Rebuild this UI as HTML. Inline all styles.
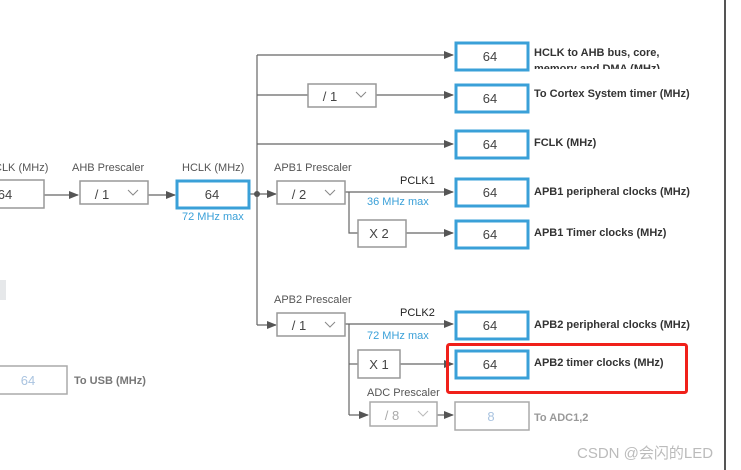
<!DOCTYPE html>
<html><head><meta charset="utf-8"><style>
html,body{margin:0;padding:0;background:#fff;}
svg{display:block;font-family:"Liberation Sans","Noto Sans CJK SC",sans-serif;}
.l{fill:#555;font-size:11px;}
.b{fill:#333;font-size:11px;font-weight:bold;}
.v{fill:#444;font-size:13px;text-anchor:middle;}
.blue{fill:#3aa0d8;font-size:11px;}
</style></head><body>
<svg width="741" height="470" viewBox="0 0 741 470">
<defs><marker id="a" markerWidth="10" markerHeight="8" refX="9" refY="4" orient="auto" markerUnits="userSpaceOnUse"><path d="M0,0 L10,4 L0,8z" fill="#555"/></marker></defs>
<g stroke="#666" stroke-width="1.2" fill="none">
<line x1="44" y1="195" x2="78" y2="195" marker-end="url(#a)"/>
<line x1="148" y1="195" x2="175" y2="195" marker-end="url(#a)"/>
<line x1="249" y1="194" x2="276" y2="194" marker-end="url(#a)"/>
<line x1="257" y1="55" x2="257" y2="325"/>
<line x1="257" y1="55" x2="453" y2="55" marker-end="url(#a)"/>
<line x1="257" y1="95" x2="308" y2="95"/>
<line x1="376" y1="95" x2="453" y2="95" marker-end="url(#a)"/>
<line x1="257" y1="144" x2="453" y2="144" marker-end="url(#a)"/>
<line x1="345" y1="192" x2="453" y2="192" marker-end="url(#a)"/>
<polyline points="349,192 349,233 358,233"/>
<line x1="406" y1="233" x2="453" y2="233" marker-end="url(#a)"/>
<line x1="257" y1="325" x2="276" y2="325" marker-end="url(#a)"/>
<line x1="345" y1="324" x2="453" y2="324" marker-end="url(#a)"/>
<line x1="349" y1="324" x2="349" y2="415"/>
<line x1="349" y1="364" x2="358" y2="364"/>
<line x1="400" y1="364" x2="453" y2="364" marker-end="url(#a)"/>
<line x1="349" y1="415" x2="368" y2="415" marker-end="url(#a)"/>
<line x1="437" y1="415" x2="453" y2="415" marker-end="url(#a)"/>
</g>
<circle cx="257" cy="194" r="3" fill="#555"/>
<!-- grey boxes -->
<g fill="#fff" stroke="#999" stroke-width="1.5">
<rect x="-2" y="180" width="46" height="28"/>
<rect x="80" y="181" width="68" height="23"/>
<rect x="308" y="84" width="68" height="23"/>
<rect x="277" y="181" width="68" height="23"/>
<rect x="358" y="220" width="48" height="27"/>
<rect x="277" y="313" width="68" height="23"/>
<rect x="358" y="350" width="42" height="28"/>
<rect x="370" y="402" width="67" height="24" stroke="#aaa"/>
<rect x="455" y="402" width="74" height="28" stroke="#aaa"/>
<rect x="-2" y="366" width="69" height="28" stroke="#aaa"/>
</g>
<rect x="0" y="280" width="6" height="20" fill="#e6e8ea"/>
<g fill="#fff" stroke="#3aa0d8" stroke-width="3">
<rect x="177" y="181" width="72" height="27"/>
<rect x="456" y="43" width="72" height="27"/>
<rect x="456" y="85" width="72" height="27"/>
<rect x="456" y="131" width="72" height="27"/>
<rect x="456" y="179" width="72" height="27"/>
<rect x="456" y="221" width="72" height="27"/>
<rect x="456" y="312" width="72" height="27"/>
<rect x="456" y="351" width="72" height="27"/>
</g>
<rect x="447.5" y="344.5" width="239" height="48" rx="2" fill="none" stroke="#f0201a" stroke-width="3"/>
<line x1="725" y1="0" x2="725" y2="470" stroke="#555" stroke-width="2"/>
<!-- dropdown texts -->
<g class="v" fill="#555">
<text x="102" y="199">/ 1</text><text x="330" y="101">/ 1</text><text x="299" y="199">/ 2</text><text x="299" y="330">/ 1</text>
<text x="379" y="238">X 2</text><text x="379" y="369">X 1</text>
<text x="392" y="420" style="fill:#aaa">/ 8</text>
</g>
<g stroke="#888" stroke-width="1" fill="none">
<polyline points="128,190 133,195 138,190"/><polyline points="356,92 361,97 366,92"/><polyline points="325,190 330,195 335,190"/><polyline points="325,322 330,327 335,322"/><polyline points="418,411 423,416 428,411" stroke="#bbb"/>
</g>
<g class="v">
<text x="5" y="199">64</text><text x="212" y="199">64</text>
<text x="490" y="61">64</text><text x="490" y="103">64</text><text x="490" y="149">64</text><text x="490" y="197">64</text><text x="490" y="239">64</text><text x="490" y="330">64</text><text x="490" y="369">64</text>
<text x="491" y="421" style="fill:#aac4e0">8</text><text x="28" y="385" style="fill:#aac4e0">64</text>
</g>
<g class="l">
<text x="-6" y="171">CLK (MHz)</text><text x="72" y="171">AHB Prescaler</text><text x="182" y="171">HCLK (MHz)</text>
<text x="274" y="171">APB1 Prescaler</text><text x="274" y="303">APB2 Prescaler</text><text x="367" y="396">ADC Prescaler</text>
<text x="400" y="184" style="fill:#222">PCLK1</text><text x="400" y="316" style="fill:#222">PCLK2</text>
</g>
<g class="blue"><text x="182" y="220">72 MHz max</text><text x="367" y="205">36 MHz max</text><text x="367" y="339">72 MHz max</text></g>
<g class="b">
<text x="534" y="56">HCLK to AHB bus, core,</text>
<text x="534" y="97">To Cortex System timer (MHz)</text>
<text x="534" y="146">FCLK (MHz)</text>
<text x="534" y="195">APB1 peripheral clocks (MHz)</text>
<text x="534" y="236">APB1 Timer clocks (MHz)</text>
<text x="534" y="328">APB2 peripheral clocks (MHz)</text>
<text x="534" y="366">APB2 timer clocks (MHz)</text>
<text x="534" y="421" style="fill:#999">To ADC1,2</text>
<text x="74" y="384" style="fill:#777">To USB (MHz)</text>
</g>
<clipPath id="c"><rect x="530" y="60" width="190" height="9"/></clipPath>
<text class="b" x="534" y="72" clip-path="url(#c)">memory and DMA (MHz)</text>
<text x="577" y="458" style="fill:#bbb;font-size:15px">CSDN @会闪的LED</text>
</svg>
</body></html>
